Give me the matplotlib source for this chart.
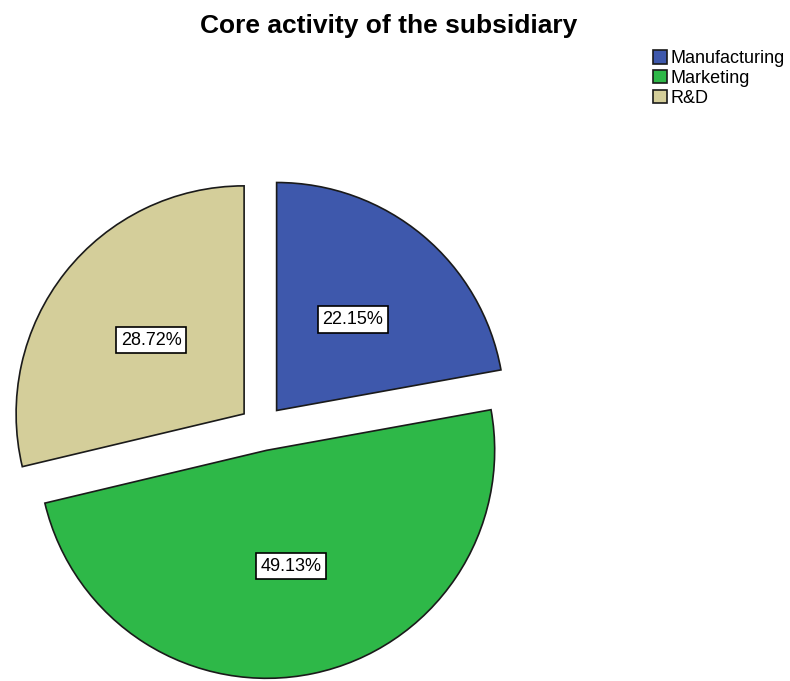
import matplotlib.pyplot as plt

# core activity shares (percent)
activities = ["Manufacturing", "Marketing", "R&D"]
shares = [22.15, 49.13, 28.72]
colors = ["#3E58AC", "#2EB848", "#D4CE9A"]

plt.rcParams["font.family"] = ["Liberation Sans", "DejaVu Sans"]

fig = plt.figure(figsize=(7.9, 6.81), dpi=100)

# pie centre at (262, 428) px, radius 228 px
W, H = 790.0, 681.0
cx, cy, r = 262.0, 428.0, 228.0
lim = 1.2
half = lim * r
ax = fig.add_axes([(cx - half) / W, (H - cy - half) / H, 2 * half / W, 2 * half / H])

wedges, texts, autotexts = ax.pie(
    shares,
    colors=colors,
    startangle=90,
    counterclock=False,
    explode=[0.1, 0.1, 0.1],
    autopct="%.2f%%",
    pctdistance=0.52,
    wedgeprops=dict(edgecolor="#1a1a1a", linewidth=1.2),
    textprops=dict(fontsize=13, color="black"),
)
for w in wedges:
    w.set_clip_on(False)
for t in autotexts:
    t.set_bbox(dict(facecolor="white", edgecolor="black", boxstyle="square,pad=0.25", linewidth=1.2))

ax.set_xlim(-lim, lim)
ax.set_ylim(-lim, lim)
ax.set_aspect("equal")
ax.axis("off")

fig.text(389 / W, 1 - 26 / H, "Core activity of the subsidiary", ha="center", va="center",
         fontsize=19, fontweight="bold")

fig.legend(wedges, activities, loc="upper left", bbox_to_anchor=(646 / W, 1 - 43 / H),
           frameon=False, fontsize=13, handlelength=0.75, handleheight=0.75,
           handletextpad=0.2, labelspacing=0.15, borderaxespad=0)

plt.savefig("out.png", dpi=100)
